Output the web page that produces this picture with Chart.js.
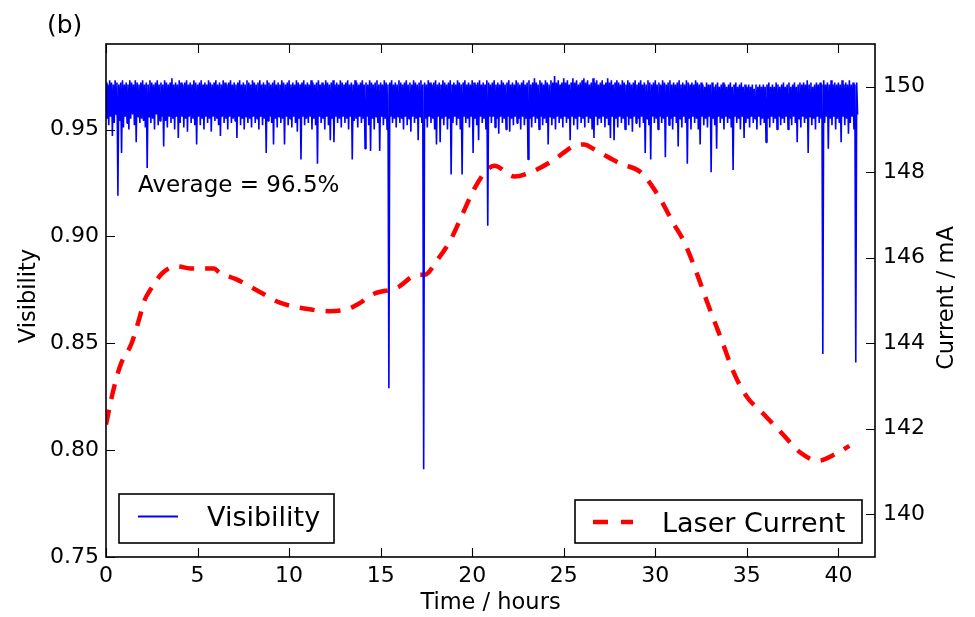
<!DOCTYPE html>
<html>
<head>
<meta charset="utf-8">
<script src="https://cdn.jsdelivr.net/npm/chart.js@4/dist/chart.umd.min.js"></script>
<style>
html,body{margin:0;padding:0;background:#fff;}
canvas{display:block;}
</style>
</head>
<body>
<canvas id="c" width="975" height="617" style="width:975px;height:617px"></canvas>
<script>
// ---- data ----
const xTicks = [0, 5, 10, 15, 20, 25, 30, 35, 40];
const visTicks = [0.75, 0.80, 0.85, 0.90, 0.95];
const currentTicks = [140, 142, 144, 146, 148, 150];

const visStep = 0.05; // hours between visibility samples (one row = one hour)
const visibility = [
0.972,0.955,0.971,0.952,0.973,0.956,0.972,0.947,0.971,0.953,0.973,0.957,0.972,0.919,0.971,0.954,0.972,0.939,0.973,0.951,
0.971,0.956,0.972,0.953,0.971,0.950,0.973,0.955,0.972,0.957,0.971,0.952,0.973,0.944,0.972,0.956,0.971,0.953,0.972,0.955,
0.973,0.954,0.971,0.951,0.972,0.932,0.971,0.956,0.973,0.953,0.972,0.955,0.971,0.950,0.972,0.957,0.973,0.952,0.971,0.954,
0.972,0.956,0.971,0.942,0.973,0.954,0.972,0.951,0.971,0.956,0.972,0.953,0.974,0.955,0.971,0.950,0.972,0.956,0.971,0.946,
0.973,0.953,0.972,0.956,0.971,0.951,0.972,0.955,0.973,0.949,0.971,0.956,0.972,0.953,0.971,0.955,0.973,0.952,0.972,0.943,
0.971,0.956,0.972,0.952,0.973,0.955,0.971,0.950,0.972,0.956,0.971,0.953,0.973,0.955,0.972,0.949,0.971,0.956,0.972,0.954,
0.973,0.955,0.971,0.952,0.972,0.947,0.971,0.956,0.973,0.953,0.972,0.955,0.971,0.950,0.972,0.956,0.973,0.953,0.971,0.955,
0.972,0.954,0.971,0.946,0.972,0.956,0.973,0.952,0.971,0.955,0.972,0.950,0.971,0.956,0.973,0.953,0.972,0.955,0.971,0.951,
0.973,0.956,0.972,0.953,0.971,0.955,0.972,0.950,0.973,0.956,0.971,0.952,0.972,0.955,0.971,0.939,0.973,0.954,0.972,0.956,
0.971,0.953,0.972,0.943,0.973,0.955,0.971,0.951,0.972,0.956,0.971,0.953,0.973,0.955,0.972,0.943,0.971,0.956,0.972,0.952,
0.973,0.955,0.971,0.951,0.972,0.956,0.971,0.953,0.973,0.949,0.972,0.955,0.971,0.936,0.972,0.956,0.973,0.952,0.971,0.955,
0.972,0.953,0.971,0.956,0.973,0.950,0.972,0.955,0.971,0.952,0.972,0.934,0.973,0.956,0.971,0.953,0.972,0.955,0.971,0.950,
0.973,0.956,0.972,0.952,0.971,0.945,0.972,0.955,0.973,0.944,0.971,0.956,0.972,0.953,0.971,0.955,0.973,0.951,0.972,0.956,
0.971,0.953,0.972,0.955,0.973,0.950,0.971,0.956,0.972,0.936,0.971,0.954,0.973,0.955,0.972,0.951,0.971,0.956,0.972,0.953,
0.973,0.955,0.971,0.941,0.972,0.956,0.971,0.952,0.973,0.940,0.972,0.955,0.971,0.950,0.972,0.956,0.973,0.953,0.971,0.940,
0.972,0.956,0.971,0.952,0.973,0.955,0.972,0.950,0.971,0.829,0.972,0.956,0.973,0.953,0.971,0.955,0.972,0.951,0.971,0.956,
0.973,0.953,0.972,0.955,0.971,0.950,0.972,0.956,0.973,0.952,0.971,0.955,0.972,0.949,0.971,0.956,0.973,0.953,0.972,0.955,
0.971,0.945,0.972,0.956,0.973,0.953,0.971,0.791,0.972,0.955,0.971,0.951,0.973,0.956,0.972,0.953,0.971,0.955,0.972,0.950,
0.973,0.943,0.971,0.956,0.972,0.944,0.971,0.955,0.973,0.952,0.972,0.956,0.971,0.950,0.972,0.955,0.973,0.929,0.971,0.953,
0.972,0.956,0.971,0.952,0.973,0.955,0.972,0.950,0.971,0.929,0.972,0.956,0.973,0.953,0.971,0.955,0.972,0.951,0.971,0.956,
0.973,0.939,0.972,0.955,0.971,0.952,0.972,0.945,0.973,0.956,0.971,0.953,0.972,0.955,0.971,0.950,0.973,0.905,0.972,0.956,
0.971,0.953,0.972,0.956,0.973,0.951,0.971,0.955,0.972,0.948,0.971,0.956,0.973,0.953,0.972,0.955,0.971,0.950,0.972,0.956,
0.973,0.949,0.971,0.955,0.972,0.952,0.971,0.956,0.973,0.953,0.972,0.955,0.971,0.950,0.972,0.956,0.973,0.952,0.971,0.955,
0.972,0.936,0.973,0.955,0.971,0.951,0.972,0.956,0.974,0.953,0.972,0.955,0.971,0.950,0.973,0.956,0.972,0.952,0.971,0.955,
0.973,0.953,0.972,0.943,0.971,0.956,0.973,0.952,0.972,0.955,0.975,0.950,0.972,0.956,0.973,0.953,0.971,0.955,0.972,0.951,
0.974,0.956,0.972,0.953,0.973,0.955,0.971,0.945,0.972,0.956,0.974,0.952,0.972,0.955,0.973,0.950,0.971,0.956,0.972,0.953,
0.973,0.955,0.974,0.951,0.972,0.956,0.973,0.953,0.971,0.955,0.972,0.950,0.974,0.946,0.972,0.956,0.973,0.952,0.971,0.955,
0.972,0.953,0.973,0.956,0.971,0.951,0.972,0.955,0.974,0.952,0.972,0.946,0.973,0.956,0.971,0.945,0.972,0.955,0.973,0.951,
0.972,0.956,0.971,0.953,0.973,0.955,0.972,0.950,0.971,0.956,0.973,0.952,0.972,0.955,0.971,0.949,0.972,0.956,0.973,0.953,
0.971,0.955,0.972,0.951,0.973,0.956,0.971,0.953,0.972,0.939,0.971,0.955,0.973,0.952,0.972,0.936,0.971,0.956,0.972,0.953,
0.973,0.955,0.971,0.950,0.972,0.956,0.971,0.953,0.973,0.955,0.972,0.937,0.971,0.956,0.972,0.952,0.973,0.955,0.971,0.950,
0.972,0.956,0.971,0.953,0.972,0.942,0.973,0.955,0.971,0.951,0.972,0.956,0.971,0.953,0.973,0.934,0.972,0.955,0.971,0.950,
0.972,0.956,0.971,0.953,0.973,0.955,0.972,0.950,0.971,0.943,0.972,0.956,0.971,0.952,0.970,0.955,0.972,0.951,0.971,0.956,
0.971,0.930,0.972,0.955,0.970,0.952,0.971,0.941,0.972,0.956,0.970,0.953,0.971,0.955,0.972,0.950,0.971,0.956,0.970,0.953,
0.971,0.955,0.972,0.951,0.970,0.931,0.971,0.956,0.972,0.953,0.970,0.955,0.971,0.950,0.972,0.956,0.970,0.946,0.971,0.953,
0.970,0.955,0.971,0.951,0.970,0.956,0.971,0.953,0.969,0.955,0.971,0.950,0.970,0.956,0.971,0.952,0.970,0.955,0.971,0.953,
0.970,0.944,0.971,0.955,0.972,0.951,0.970,0.956,0.971,0.953,0.970,0.955,0.972,0.950,0.971,0.956,0.970,0.952,0.971,0.955,
0.972,0.953,0.970,0.956,0.971,0.950,0.972,0.955,0.970,0.952,0.971,0.956,0.972,0.953,0.970,0.944,0.971,0.955,0.972,0.951,
0.971,0.956,0.972,0.953,0.971,0.955,0.973,0.939,0.971,0.956,0.972,0.952,0.970,0.955,0.971,0.950,0.972,0.956,0.971,0.953,
0.972,0.955,0.971,0.845,0.973,0.953,0.971,0.956,0.972,0.941,0.971,0.955,0.973,0.952,0.971,0.956,0.972,0.950,0.971,0.955,
0.972,0.953,0.971,0.944,0.973,0.956,0.971,0.952,0.972,0.955,0.971,0.948,0.973,0.953,0.971,0.956,0.972,0.950,0.971,0.841,
0.972,0.957
];

const currentTimes = [0,0.4,0.8,1.4,1.8,2.1,2.5,3.1,3.9,4.6,5.9,6.2,7.1,8.4,9.5,11.0,12.2,13.2,13.9,14.6,15.9,17.0,17.4,18.1,18.8,19.5,20.1,20.8,21.2,22.3,23.2,24.5,25.5,26.1,26.8,28.1,29.2,30.1,31.0,31.6,32.3,32.8,33.6,34.3,35.0,35.9,36.9,37.9,38.9,39.8,40.6];
const laserCurrent = [142.1,142.9,143.5,144.0,144.55,145.0,145.3,145.65,145.8,145.75,145.75,145.65,145.5,145.2,144.95,144.8,144.75,144.8,144.95,145.15,145.3,145.6,145.6,145.95,146.4,147.05,147.6,148.05,148.15,147.9,148.0,148.3,148.6,148.65,148.5,148.2,148.0,147.5,146.8,146.35,145.6,145.0,144.1,143.3,142.75,142.35,141.9,141.45,141.25,141.4,141.6];

// ---- build datasets ----
const visPoints = visibility.map((v, i) => ({x: +(i * visStep).toFixed(2), y: v}));
const laserPoints = currentTimes.map((t, i) => ({x: t, y: laserCurrent[i]}));

const FONT = "'DejaVu Sans', 'Liberation Sans', sans-serif";

const decor = {
  id: 'decor',
  beforeDraw(chart) {
    const c = chart.ctx;
    c.save();
    c.fillStyle = '#fff';
    c.fillRect(0, 0, chart.width, chart.height);
    c.restore();
  },
  afterDraw(chart) {
    const c = chart.ctx;
    const a = chart.chartArea;
    const sx = chart.scales.x, sy = chart.scales.y, sy1 = chart.scales.y1;
    c.save();
    // frame
    c.strokeStyle = '#000';
    c.lineWidth = 1.6;
    c.strokeRect(a.left, a.top, a.right - a.left, a.bottom - a.top);
    // inward ticks
    c.lineWidth = 1.1;
    c.beginPath();
    const tl = 9;
    sx.ticks.forEach(t => {
      const px = Math.round(sx.getPixelForValue(t.value)) + 0.5;
      c.moveTo(px, a.bottom); c.lineTo(px, a.bottom - tl);
      c.moveTo(px, a.top); c.lineTo(px, a.top + tl);
    });
    sy.ticks.forEach(t => {
      const py = Math.round(sy.getPixelForValue(t.value)) + 0.5;
      c.moveTo(a.left, py); c.lineTo(a.left + tl, py);
    });
    sy1.ticks.forEach(t => {
      const py = Math.round(sy1.getPixelForValue(t.value)) + 0.5;
      c.moveTo(a.right, py); c.lineTo(a.right - tl, py);
    });
    c.stroke();

    c.fillStyle = '#000';
    // panel label
    c.font = '25px ' + FONT;
    c.textAlign = 'left'; c.textBaseline = 'alphabetic';
    c.fillText('(b)', 47, 33);
    // annotation
    c.font = '23px ' + FONT;
    c.fillText('Average = 96.5%', 138, 192);
    // axis titles
    c.font = '22.5px ' + FONT;
    c.textAlign = 'center'; c.textBaseline = 'middle';
    c.fillText('Time / hours', (a.left + a.right) / 2, 603);
    c.save();
    c.translate(29, 296); c.rotate(-Math.PI / 2);
    c.fillText('Visibility', 0, 0);
    c.restore();
    c.save();
    c.translate(947, 298); c.rotate(-Math.PI / 2);
    c.fillText('Current / mA', 0, 0);
    c.restore();

    // legends
    c.lineWidth = 1.6;
    c.strokeStyle = '#000';
    c.fillStyle = '#fff';
    c.fillRect(119, 494, 215, 49);
    c.strokeRect(119, 494, 215, 49);
    c.fillRect(575, 500, 287, 43);
    c.strokeRect(575, 500, 287, 43);
    c.strokeStyle = '#0000ff';
    c.lineWidth = 2;
    c.beginPath(); c.moveTo(138, 516.5); c.lineTo(178, 516.5); c.stroke();
    c.strokeStyle = '#ff0000';
    c.lineWidth = 4.5;
    c.setLineDash([15, 13]);
    c.beginPath(); c.moveTo(593, 522); c.lineTo(633, 522); c.stroke();
    c.setLineDash([]);
    c.fillStyle = '#000';
    c.font = '27px ' + FONT;
    c.textAlign = 'left'; c.textBaseline = 'alphabetic';
    c.fillText('Visibility', 207, 526);
    c.fillText('Laser Current', 662, 532);
    c.restore();
  }
};

const tickFont = {family: FONT, size: 22};

new Chart(document.getElementById('c'), {
  type: 'line',
  data: {
    datasets: [
      {label: 'Visibility', data: visPoints, yAxisID: 'y', borderColor: '#0000ff', borderWidth: 1.6,
       pointRadius: 0, tension: 0, fill: false, borderJoinStyle: 'bevel'},
      {label: 'Laser Current', data: laserPoints, yAxisID: 'y1', borderColor: '#ff0000', borderWidth: 4.5,
       borderDash: [15, 11], pointRadius: 0, cubicInterpolationMode: 'monotone', fill: false}
    ]
  },
  options: {
    responsive: false,
    animation: false,
    events: [],
    layout: {padding: {top: 44, left: 0, right: 0, bottom: 0}},
    plugins: {legend: {display: false}, tooltip: {enabled: false}, title: {display: false}},
    scales: {
      x: {
        type: 'linear', min: 0, max: 42,
        grid: {display: false, drawTicks: false}, border: {display: false},
        ticks: {font: tickFont, color: '#000', padding: 6, autoSkip: false, maxRotation: 0,
                callback: v => String(v)},
        afterBuildTicks: s => { s.ticks = xTicks.map(v => ({value: v})); },
        afterFit: s => { s.height = 60; }
      },
      y: {
        type: 'linear', position: 'left', min: 0.75, max: 0.99,
        grid: {display: false, drawTicks: false}, border: {display: false},
        ticks: {font: tickFont, color: '#000', padding: 7, callback: v => Number(v).toFixed(2)},
        afterBuildTicks: s => { s.ticks = visTicks.map(v => ({value: v})); },
        afterFit: s => { s.width = 106; }
      },
      y1: {
        type: 'linear', position: 'right', min: 139, max: 151,
        grid: {display: false, drawTicks: false}, border: {display: false},
        ticks: {font: tickFont, color: '#000', padding: 8, callback: v => String(v)},
        afterBuildTicks: s => { s.ticks = currentTicks.map(v => ({value: v})); },
        afterFit: s => { s.width = 100; }
      }
    }
  },
  plugins: [decor]
});
</script>
</body>
</html>
